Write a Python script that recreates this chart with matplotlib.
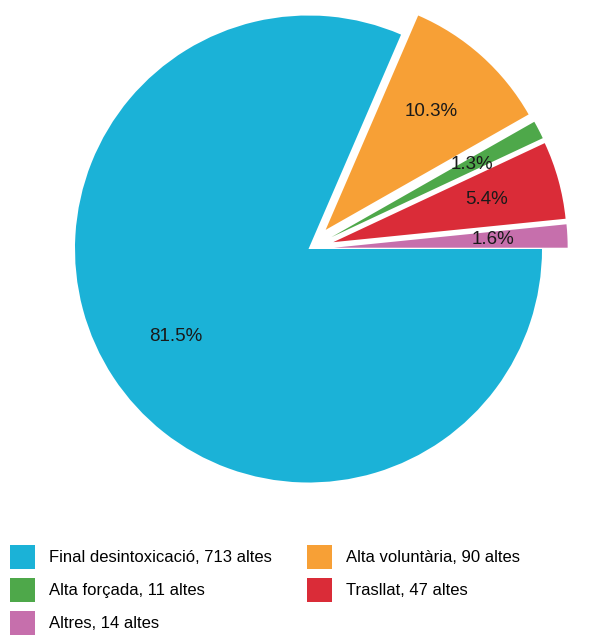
import matplotlib
matplotlib.use("Agg")
import matplotlib.pyplot as plt

categories = ["Final desintoxicació", "Alta voluntària", "Alta forçada", "Trasllat", "Altres"]
values = [713, 90, 11, 47, 14]
colors = ["#1bb2d7", "#f7a036", "#4ea84a", "#da2c38", "#c66fac"]
explode = [0, 0.11, 0.11, 0.11, 0.11]

plt.rcParams['font.family'] = ['Liberation Sans', 'DejaVu Sans']

W, H = 605, 635
fig = plt.figure(figsize=(W / 100, H / 100), dpi=100)
ax = fig.add_axes([0, 0, 1, 1])
cx, cy, R = 308.5, 249, 233.5

wedges, texts, autotexts = ax.pie(
    values, colors=colors, explode=explode, startangle=0, counterclock=False,
    autopct='%1.1f%%', pctdistance=0.68, radius=1,
    textprops=dict(fontsize=13.5, color='#1a1a1a'),
    wedgeprops=dict(linewidth=0))
ax.set_xlim(-cx / R, (W - cx) / R)
ax.set_ylim(-(H - cy) / R, cy / R)
ax.set_aspect('auto')
ax.axis('off')

labels = [f"{c}, {v} altes" for c, v in zip(categories, values)]
order = [0, 2, 4, 1, 3]
leg = fig.legend([wedges[i] for i in order], [labels[i] for i in order],
                 ncol=2, loc='upper left', bbox_to_anchor=(5 / W, 1 - 540 / H),
                 frameon=False, fontsize=12, handlelength=1.5, handleheight=1.84,
                 handletextpad=0.84, labelspacing=0.54, columnspacing=2.1,
                 borderaxespad=0, borderpad=0.3)
fig.savefig("out.png", dpi=100)
